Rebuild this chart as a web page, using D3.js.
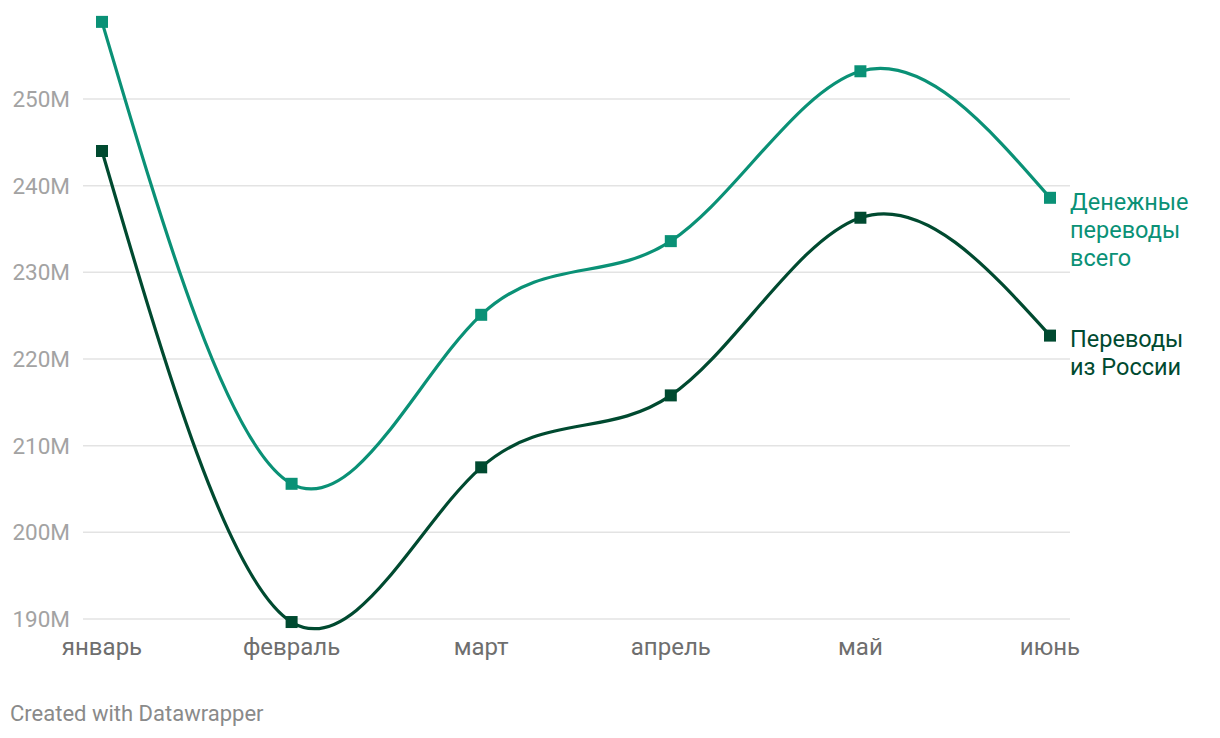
<!DOCTYPE html>
<html>
<head>
<meta charset="utf-8">
<script src="https://cdn.jsdelivr.net/npm/d3@7"></script>
<style>
  body { margin: 0; background: #fff; font-family: Roboto, "Noto Sans", sans-serif; }
  .grid line { stroke: #e3e3e3; stroke-width: 1.5; }
  .y-label { fill: #a3a3a3; font-size: 22.5px; }
  .x-label { fill: #6e6e6e; font-size: 24px; }
</style>
</head>
<body>
<svg id="chart" width="1220" height="738"></svg>
<script>
// data
var months = ['январь', 'февраль', 'март', 'апрель', 'май', 'июнь'];
var totalValues = [258.9, 205.6, 225.1, 233.6, 253.2, 238.6];
var russiaValues = [244.0, 189.65, 207.5, 215.8, 236.3, 222.7];
var yTicks = [190, 200, 210, 220, 230, 240, 250];

var colorTotal = '#0a9176',
    colorRussia = '#004a30';

var svg = d3.select('#chart');

// scales
var x = d3.scalePoint()
  .domain(months)
  .range([102, 1050]);

var y = d3.scaleLinear()
  .domain([190, 250])
  .range([619, 99]);

// grid
var grid = svg.append('g').attr('class', 'grid');
grid.selectAll('line')
  .data(yTicks)
  .enter().append('line')
    .attr('x1', 83)
    .attr('x2', 1070)
    .attr('y1', function(d){ return y(d); })
    .attr('y2', function(d){ return y(d); });

// y labels
svg.append('g').selectAll('text')
  .data(yTicks)
  .enter().append('text')
    .attr('class', 'y-label')
    .attr('x', 70)
    .attr('y', function(d){ return y(d); })
    .attr('dy', '0.36em')
    .attr('text-anchor', 'end')
    .text(function(d){ return d + 'M'; });

// x labels
svg.append('g').selectAll('text')
  .data(months)
  .enter().append('text')
    .attr('class', 'x-label')
    .attr('x', function(d){ return x(d); })
    .attr('y', 655)
    .attr('text-anchor', 'middle')
    .text(function(d){ return d; });

var line = d3.line()
  .x(function(d, i){ return x(months[i]); })
  .y(function(d){ return y(d); })
  .curve(d3.curveNatural);

function drawSeries(values, color) {
  svg.append('path')
    .datum(values)
    .attr('fill', 'none')
    .attr('stroke', color)
    .attr('stroke-width', 3.2)
    .attr('d', line);

  svg.append('g').selectAll('rect')
    .data(values)
    .enter().append('rect')
      .attr('x', function(d, i){ return x(months[i]) - 6; })
      .attr('y', function(d){ return y(d) - 6; })
      .attr('width', 12)
      .attr('height', 12)
      .attr('fill', color);
}

drawSeries(totalValues, colorTotal);
drawSeries(russiaValues, colorRussia);

// series labels
function seriesLabel(lines, color, y0) {
  var t = svg.append('text')
    .attr('fill', color)
    .attr('font-size', 23.5);
  lines.forEach(function(s, i){
    t.append('tspan')
      .attr('x', 1070)
      .attr('y', y0 + i * 28)
      .text(s);
  });
}
seriesLabel(['Денежные', 'переводы', 'всего'], colorTotal, 210);
seriesLabel(['Переводы', 'из России'], colorRussia, 347);

// footer
svg.append('text')
  .attr('x', 10)
  .attr('y', 721)
  .attr('fill', '#8a8a8a')
  .attr('font-size', 22)
  .text('Created with Datawrapper');
</script>
</body>
</html>
